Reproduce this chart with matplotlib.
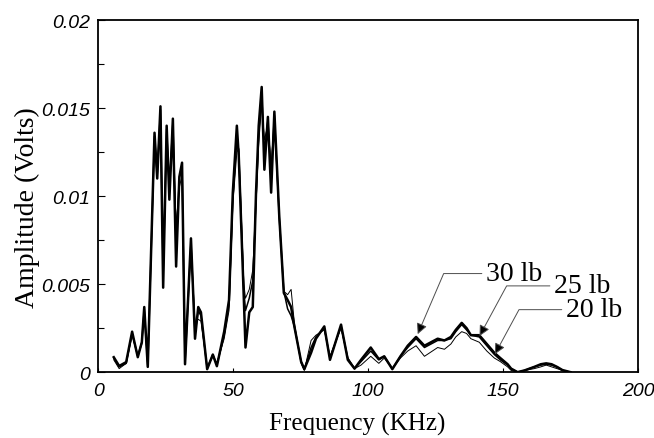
import numpy as np
import matplotlib.pyplot as plt
from matplotlib.ticker import MultipleLocator

# frequency points (KHz) shared by the three load curves
freq = [5.8, 7.8, 10.4, 12.6, 14.7, 16.2, 17.1, 18.4, 20.9, 21.9, 23.1, 24.1, 25.4, 26.4,
        27.7, 28.9, 30.1, 31.1, 32.2, 34.4, 35.9, 37.1, 38.1, 40.4, 42.5, 44.0, 46.7, 48.5,
        49.9, 51.4, 52.1, 54.0, 54.6, 56.0, 57.3, 58.5, 59.5, 60.6, 61.6, 62.9, 64.1, 65.3,
        67.1, 68.8, 70.2, 71.5, 72.7, 75.2, 76.4, 78.9, 80.7, 83.8, 85.9, 90.0, 92.5, 95.0,
        97.4, 101.0, 104.0, 106.0, 109.0, 112.0, 114.7, 117.8, 120.9, 125.8, 128.3, 130.7,
        132.5, 134.7, 136.5, 138.1, 141.2, 144.0, 146.8, 149.0, 151.7, 153.0, 155.4, 158.0,
        161.6, 164.0, 166.0, 168.0, 170.0, 172.0, 175.0]

amp_30 = [0.00085, 0.00035, 0.00057, 0.0023, 0.00085, 0.0017, 0.0037, 0.0003, 0.0136, 0.011,
          0.0151, 0.0048, 0.014, 0.0098, 0.0144, 0.006, 0.0111, 0.0119, 0.00045, 0.0076,
          0.0019, 0.0037, 0.0034, 0.00017, 0.001, 0.00034, 0.0023, 0.0041, 0.0102, 0.014,
          0.0123, 0.0041, 0.0014, 0.0034, 0.0037, 0.0102, 0.014, 0.0162, 0.0115, 0.0145,
          0.0102, 0.0148, 0.0089, 0.0045, 0.0041, 0.0037, 0.0026, 0.0006, 0.00017, 0.0011,
          0.0019, 0.0026, 0.0007, 0.0027, 0.0007, 0.0002, 0.0007, 0.0014, 0.00074, 0.0009,
          0.00017, 0.0009, 0.0015, 0.002, 0.0015, 0.0019, 0.0018, 0.002, 0.0024, 0.0028,
          0.0025, 0.0021, 0.0021, 0.0016, 0.0011, 0.0008, 0.00045, 0.0002, 0.0, 0.0001,
          0.0003, 0.00045, 0.0005, 0.00045, 0.0003, 0.00012, 0.0]

amp_25 = [0.0008, 0.0003, 0.0005, 0.0022, 0.0009, 0.0017, 0.0036, 0.0003, 0.0134, 0.0112,
          0.0149, 0.0055, 0.0138, 0.0104, 0.0142, 0.0075, 0.011, 0.0117, 0.0005, 0.0074,
          0.0022, 0.0035, 0.0032, 0.0002, 0.001, 0.0004, 0.0021, 0.0038, 0.0098, 0.0132,
          0.0126, 0.0045, 0.0035, 0.0042, 0.0052, 0.0098, 0.0135, 0.0158, 0.0125, 0.0143,
          0.011, 0.0146, 0.0088, 0.0046, 0.0036, 0.0032, 0.0026, 0.0006, 0.00015, 0.0014,
          0.002, 0.0025, 0.0008, 0.0026, 0.0008, 0.0002, 0.0006, 0.0012, 0.0007, 0.0009,
          0.0002, 0.0009, 0.0014, 0.0019, 0.0014, 0.0018, 0.0018, 0.0019, 0.0023, 0.0027,
          0.0024, 0.0021, 0.002, 0.0015, 0.001, 0.0007, 0.0004, 0.0002, 0.0, 0.0001,
          0.0003, 0.0004, 0.00045, 0.0004, 0.0003, 0.0001, 0.0]

amp_20 = [0.0007, 0.0002, 0.0005, 0.0021, 0.0009, 0.0016, 0.0035, 0.0003, 0.0132, 0.0115,
          0.0146, 0.0062, 0.0135, 0.0108, 0.0138, 0.0083, 0.0105, 0.0112, 0.0006, 0.0072,
          0.0028, 0.003, 0.0029, 0.0003, 0.0009, 0.0005, 0.0019, 0.0035, 0.0095, 0.0125,
          0.0127, 0.005, 0.0042, 0.0047, 0.0058, 0.0095, 0.013, 0.0152, 0.0132, 0.014,
          0.0118, 0.0143, 0.0088, 0.0046, 0.0044, 0.0047, 0.0028, 0.0005, 0.0001, 0.0018,
          0.0021, 0.0024, 0.0009, 0.0025, 0.0008, 0.0002, 0.0004, 0.0009, 0.0005, 0.0008,
          0.0002, 0.0008, 0.0012, 0.0015, 0.0009, 0.0014, 0.0013, 0.0016, 0.002, 0.0023,
          0.0022, 0.0019, 0.0017, 0.0012, 0.0008, 0.0006, 0.0003, 0.0001, 0.0, 0.0001,
          0.0002, 0.0003, 0.0004, 0.0003, 0.0002, 0.0001, 0.0]

labels = ['30 lb', '25 lb', '20 lb']
# arrow tip (on curve) and text anchor, in data units
tips = [(118.4, 0.00216), (141.3, 0.00205), (147.0, 0.00102)]
text_pos = [(143.7, 0.0056), (168.9, 0.0049), (173.3, 0.00355)]
leader_angle = [66.8, 61.6, 61.6]

plt.rcParams['font.family'] = 'Liberation Sans'

fig = plt.figure(figsize=(6.54, 4.39), dpi=100)
ax = fig.add_axes([0.150, 0.150, 0.8255, 0.802])

ax.plot(freq, amp_20, color='black', lw=0.7)
ax.plot(freq, amp_25, color='black', lw=1.1)
ax.plot(freq, amp_30, color='black', lw=1.8)

for lab, tip, tp, ang in zip(labels, tips, text_pos, leader_angle):
    ax.annotate(lab, xy=tip, xytext=tp, ha='left', va='center',
                fontsize=20, family='Liberation Serif',
                arrowprops=dict(arrowstyle='-|>', fc='black', ec='0.3', lw=0.7,
                                mutation_scale=16, shrinkA=1, shrinkB=0,
                                connectionstyle='angle,angleA=0,angleB=%g,rad=0' % ang))

ax.set_xlim(0, 200)
ax.set_ylim(0, 0.02)
ax.set_xticks([0, 50, 100, 150, 200])
ax.set_xticklabels(['0', '50', '100', '150', '200'])
ax.set_yticks([0, 0.005, 0.01, 0.015, 0.02])
ax.set_yticklabels(['0', '0.005', '0.01', '0.015', '0.02'])
ax.yaxis.set_minor_locator(MultipleLocator(0.0025))
ax.tick_params(axis='both', which='both', direction='in', top=False, right=False)
ax.tick_params(axis='y', which='major', length=5, width=0.8, pad=6)
ax.tick_params(axis='y', which='minor', length=4, width=0.8)
ax.tick_params(axis='x', which='major', length=3, width=0.8, pad=7)
for t in ax.get_xticklabels() + ax.get_yticklabels():
    t.set_fontsize(14)
    t.set_fontstyle('italic')

for s in ax.spines.values():
    s.set_linewidth(1.3)

ax.set_xlabel('Frequency (KHz)', family='Liberation Serif', fontsize=18)
ax.set_ylabel('Amplitude (Volts)', family='Liberation Serif', fontsize=20)
ax.xaxis.set_label_coords(0.48, -0.112)
ax.yaxis.set_label_coords(-0.108, 0.47)

plt.savefig('out.png', dpi=100)
